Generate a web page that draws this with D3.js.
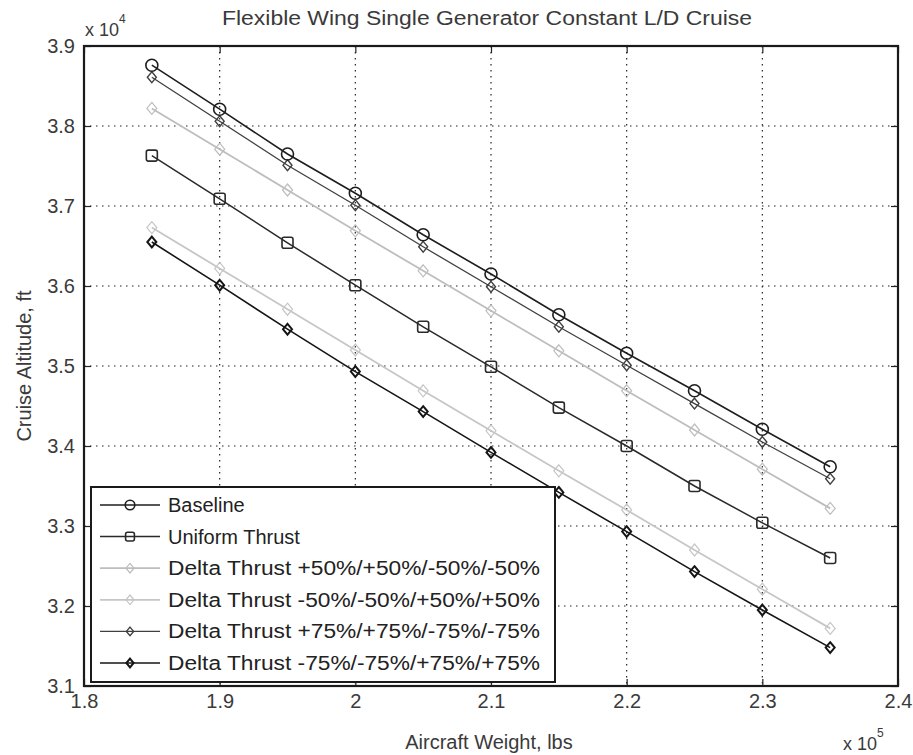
<!DOCTYPE html>
<html>
<head>
<meta charset="utf-8">
<script src="https://cdn.jsdelivr.net/npm/d3@7"></script>
<style>
  body { margin: 0; background: #fff; }
  svg { display: block; font-family: "Liberation Sans", Arial, sans-serif; }
</style>
</head>
<body>
<svg id="chart" width="913" height="755"></svg>
<script>
// ---- data ----
const weights = [1.85, 1.9, 1.95, 2.0, 2.05, 2.1, 2.15, 2.2, 2.25, 2.3, 2.35]; // x 10^5 lbs
const baseline   = [3.876, 3.821, 3.765, 3.716, 3.664, 3.615, 3.564, 3.516, 3.469, 3.421, 3.374];
const uniform    = [3.763, 3.709, 3.654, 3.601, 3.549, 3.499, 3.448, 3.400, 3.350, 3.304, 3.260];
const plus50     = [3.822, 3.771, 3.720, 3.669, 3.619, 3.569, 3.519, 3.469, 3.420, 3.371, 3.322];
const minus50    = [3.673, 3.622, 3.571, 3.520, 3.469, 3.419, 3.369, 3.320, 3.270, 3.221, 3.172];
const plus75     = [3.861, 3.806, 3.751, 3.701, 3.649, 3.599, 3.549, 3.501, 3.453, 3.405, 3.359];
const minus75    = [3.655, 3.601, 3.546, 3.493, 3.443, 3.392, 3.342, 3.293, 3.243, 3.195, 3.148];
const seriesNames = ["Baseline", "Uniform Thrust", "Delta Thrust +50%/+50%/-50%/-50%",
  "Delta Thrust -50%/-50%/+50%/+50%", "Delta Thrust +75%/+75%/-75%/-75%", "Delta Thrust -75%/-75%/+75%/+75%"];
const xTicks = [1.8, 1.9, 2.0, 2.1, 2.2, 2.3, 2.4];
const yTicks = [3.1, 3.2, 3.3, 3.4, 3.5, 3.6, 3.7, 3.8, 3.9];

const series = [
  { name: seriesNames[0], values: baseline, color: "#1e1e1e", marker: "circle",  size: 6,   fill: "none", width: 1.6, mw: 1.6 },
  { name: seriesNames[1], values: uniform,  color: "#2a2a2a", marker: "square",  size: 5.5, fill: "none", width: 1.5, mw: 1.6 },
  { name: seriesNames[2], values: plus50,   color: "#bdbdbd", marker: "diamond", size: 5,   fill: "none", width: 1.8, mw: 1.2 },
  { name: seriesNames[3], values: minus50,  color: "#c6c6c6", marker: "diamond", size: 5,   fill: "none", width: 1.8, mw: 1.2 },
  { name: seriesNames[4], values: plus75,   color: "#404040", marker: "diamond", size: 4.5, fill: "none", width: 1.3, mw: 1.4 },
  { name: seriesNames[5], values: minus75,  color: "#151515", marker: "diamond", size: 4.5, fill: "none", width: 1.6, mw: 2 }
];

// ---- layout ----
const svg = d3.select("#chart");
const L = 84, R = 898, T = 46, B = 686;
const x = d3.scaleLinear().domain([1.8, 2.4]).range([L, R]);
const y = d3.scaleLinear().domain([3.1, 3.9]).range([B, T]);

// grid
const grid = svg.append("g");
xTicks.slice(1, -1).forEach(t => {
  grid.append("line").attr("x1", x(t)).attr("x2", x(t)).attr("y1", T).attr("y2", B)
    .attr("stroke", "#222").attr("stroke-width", 1.2).attr("stroke-dasharray", "1.5,4.5");
});
yTicks.slice(1, -1).forEach(t => {
  grid.append("line").attr("x1", L).attr("x2", R).attr("y1", y(t)).attr("y2", y(t))
    .attr("stroke", "#222").attr("stroke-width", 1.2).attr("stroke-dasharray", "1.5,4.5");
});

// axes with inward ticks
const tickFmt = d => d3.format("")(+d.toFixed(1));
const xAxisB = d3.axisBottom(x).tickValues(xTicks).tickSizeInner(-7).tickSizeOuter(0).tickPadding(8).tickFormat(tickFmt);
const xAxisT = d3.axisTop(x).tickValues(xTicks).tickSizeInner(-7).tickSizeOuter(0).tickFormat("");
const yAxisL = d3.axisLeft(y).tickValues(yTicks).tickSizeInner(-7).tickSizeOuter(0).tickPadding(9).tickFormat(tickFmt);
const yAxisR = d3.axisRight(y).tickValues(yTicks).tickSizeInner(-7).tickSizeOuter(0).tickFormat("");

function styleAxis(g) {
  g.select(".domain").remove();
  g.selectAll(".tick line").attr("stroke", "#222").attr("stroke-width", 1.2);
  g.selectAll(".tick text").attr("fill", "#3a3a3a").style("font-size", "20px");
}
svg.append("g").attr("transform", `translate(0,${B})`).call(xAxisB).call(styleAxis);
svg.append("g").attr("transform", `translate(0,${T})`).call(xAxisT).call(styleAxis);
svg.append("g").attr("transform", `translate(${L},0)`).call(yAxisL).call(styleAxis);
svg.append("g").attr("transform", `translate(${R},0)`).call(yAxisR).call(styleAxis);

// plot box
svg.append("rect").attr("x", L).attr("y", T).attr("width", R - L).attr("height", B - T)
  .attr("fill", "none").attr("stroke", "#1a1a1a").attr("stroke-width", 2.2);

// markers
function drawMarker(g, type, cx, cy, s, color, fill, mw) {
  if (type === "circle") {
    g.append("circle").attr("cx", cx).attr("cy", cy).attr("r", s)
      .attr("fill", "none").attr("stroke", color).attr("stroke-width", mw);
  } else if (type === "square") {
    g.append("rect").attr("x", cx - s).attr("y", cy - s).attr("width", 2 * s).attr("height", 2 * s)
      .attr("fill", "none").attr("stroke", color).attr("stroke-width", mw).attr("rx", 2);
  } else {
    const pts = [[cx, cy - s * 1.2], [cx + s, cy], [cx, cy + s * 1.2], [cx - s, cy]];
    g.append("polygon").attr("points", pts.map(p => p.join(",")).join(" "))
      .attr("fill", fill).attr("stroke", color).attr("stroke-width", mw);
  }
}

const line = d3.line().x((d, i) => x(weights[i])).y(d => y(d));
const plot = svg.append("g");
const order = [2, 3, 4, 1, 5, 0];
order.forEach(k => {
  const s = series[k];
  plot.append("path").datum(s.values).attr("d", line)
    .attr("fill", "none").attr("stroke", s.color).attr("stroke-width", s.width);
  s.values.forEach((v, i) => drawMarker(plot, s.marker, x(weights[i]), y(v), s.size, s.color, s.fill, s.mw));
});

// legend
const lg = svg.append("g");
const LX = 91, LY = 487, LW = 464, LH = 195;
lg.append("rect").attr("x", LX).attr("y", LY).attr("width", LW).attr("height", LH)
  .attr("fill", "#fff").attr("stroke", "#1a1a1a").attr("stroke-width", 2);
series.forEach((s, i) => {
  const yy = LY + 18 + i * 31.6;
  lg.append("line").attr("x1", LX + 9).attr("x2", LX + 69).attr("y1", yy).attr("y2", yy)
    .attr("stroke", s.color).attr("stroke-width", s.width);
  drawMarker(lg, s.marker, LX + 39, yy, s.size * 0.8, s.color, s.fill, s.mw);
  const t = lg.append("text").attr("x", LX + 77).attr("y", yy + 7).text(s.name)
    .attr("fill", "#222").style("font-size", "20px");
  if (i >= 2) t.attr("textLength", 372).attr("lengthAdjust", "spacingAndGlyphs");
});

// titles
svg.append("text").attr("x", 487).attr("y", 25).attr("text-anchor", "middle")
  .attr("fill", "#3a3a3a").style("font-size", "20px")
  .attr("textLength", 530).attr("lengthAdjust", "spacingAndGlyphs")
  .text("Flexible Wing Single Generator Constant L/D Cruise");
svg.append("text").attr("x", 489).attr("y", 749).attr("text-anchor", "middle")
  .attr("fill", "#3a3a3a").style("font-size", "20px").text("Aircraft Weight, lbs");
svg.append("text").attr("transform", `translate(31,${(T + B) / 2}) rotate(-90)`).attr("text-anchor", "middle")
  .attr("fill", "#3a3a3a").style("font-size", "20px").text("Cruise Altitude, ft");

// exponent labels
const e4 = svg.append("text").attr("x", 85).attr("y", 36).attr("fill", "#3a3a3a").style("font-size", "18px");
e4.append("tspan").text("x 10");
e4.append("tspan").attr("dy", -13).style("font-size", "12px").text("4");
const e5 = svg.append("text").attr("x", 843).attr("y", 750).attr("fill", "#3a3a3a").style("font-size", "18px");
e5.append("tspan").text("x 10");
e5.append("tspan").attr("dy", -13).style("font-size", "12px").text("5");
</script>
</body>
</html>
